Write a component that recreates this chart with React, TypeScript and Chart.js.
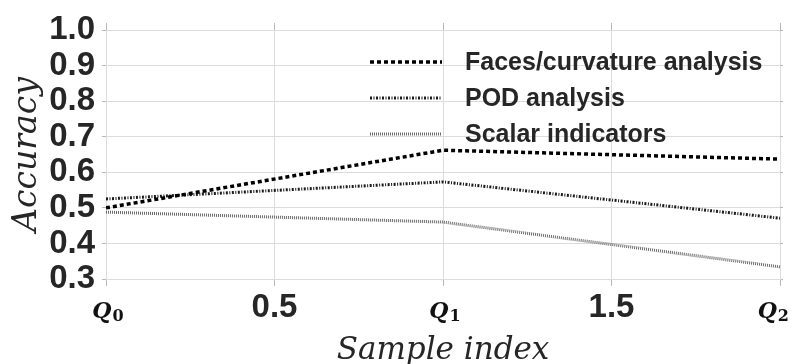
import { useEffect, useRef } from 'react';
import { Chart, registerables } from 'chart.js';

Chart.register(...registerables);

const sampleIndex = [0, 1, 2];
const sampleTickBase = ['Q', 'Q', 'Q'];
const sampleTickSub = ['0', '1', '2'];
const seriesNames = ['Faces/curvature analysis', 'POD analysis', 'Scalar indicators'];
const facesCurvature = [0.5, 0.662, 0.637];
const podAnalysis = [0.525, 0.573, 0.471];
const scalarIndicators = [0.488, 0.46, 0.334];
const yMin = 0.3;
const yMax = 1.0;
const yStep = 0.1;
const xStep = 0.5;

const GRID = '#dcdcdc';
const TICKC = '#b8b8b8';
const TEXT = '#262626';

const insideLegend = {
  id: 'insideLegend',
  afterDatasetsDraw(chart: any) {
    const { ctx, chartArea } = chart;
    chart.data.datasets.forEach((ds: any, i: number) => {
      const y = chartArea.top + 32 + i * 36;
      const x0 = chartArea.left + 264;
      const x1 = chartArea.left + 336;
      ctx.save();
      ctx.strokeStyle = ds.borderColor;
      ctx.lineWidth = ds.borderWidth;
      ctx.setLineDash(ds.borderDash || []);
      ctx.beginPath();
      ctx.moveTo(x0, y);
      ctx.lineTo(x1, y);
      ctx.stroke();
      ctx.setLineDash([]);
      ctx.fillStyle = TEXT;
      ctx.font = 'bold 25px "Liberation Sans", Arial, sans-serif';
      ctx.textBaseline = 'middle';
      ctx.textAlign = 'left';
      ctx.fillText(ds.label, chartArea.left + 359, y + 1);
      ctx.restore();
    });
  },
};

// Draws the Q_i tick labels (letter + subscript) under the x axis
const sampleLabels = {
  id: 'sampleLabels',
  afterDraw(chart: any) {
    const { ctx, chartArea } = chart;
    const xs = chart.scales.x;
    const baseFont = 'italic bold 22px "DejaVu Serif", serif';
    const subFont = 'bold 16px "DejaVu Serif", serif';
    const baseY = chartArea.bottom + 39;
    ctx.save();
    ctx.fillStyle = '#111111';
    ctx.textBaseline = 'alphabetic';
    ctx.textAlign = 'left';
    sampleIndex.forEach((v, i) => {
      ctx.font = baseFont;
      const wq = ctx.measureText(sampleTickBase[i]).width;
      ctx.font = subFont;
      const ws = ctx.measureText(sampleTickSub[i]).width;
      const total = wq + 1 + ws;
      let left = xs.getPixelForValue(v) - total / 2 + 2;
      left = Math.min(left, chart.width - 3 - total);
      ctx.font = baseFont;
      ctx.fillText(sampleTickBase[i], left, baseY);
      ctx.font = subFont;
      ctx.fillText(sampleTickSub[i], left + wq + 1, baseY + 3);
    });
    ctx.restore();
  },
};

export default function App() {
  const ref = useRef<HTMLCanvasElement | null>(null);
  useEffect(() => {
    document.body.style.margin = '0';
    const canvas = ref.current!;
    const toPts = (vals: number[]) => sampleIndex.map((x, i) => ({ x, y: vals[i] }));
    const chart = new Chart(canvas, {
      type: 'line',
      data: {
        datasets: [
          {
            label: seriesNames[0],
            data: toPts(facesCurvature),
            borderColor: '#000000',
            borderWidth: 3.5,
            borderDash: [4, 3],
            pointRadius: 0,
            tension: 0,
            fill: false,
          },
          {
            label: seriesNames[1],
            data: toPts(podAnalysis),
            borderColor: '#1a1a1a',
            borderWidth: 3,
            borderDash: [2, 1.5, 1, 1.5],
            pointRadius: 0,
            tension: 0,
            fill: false,
          },
          {
            label: seriesNames[2],
            data: toPts(scalarIndicators),
            borderColor: '#6a6a6a',
            borderWidth: 3,
            borderDash: [1, 1],
            pointRadius: 0,
            tension: 0,
            fill: false,
          },
        ],
      },
      options: {
        responsive: false,
        animation: false,
        layout: { padding: { left: 0, right: 9, top: 23, bottom: 0 } },
        plugins: { legend: { display: false }, tooltip: { enabled: false } },
        scales: {
          x: {
            type: 'linear',
            position: 'bottom',
            min: sampleIndex[0],
            max: sampleIndex[sampleIndex.length - 1],
            afterFit: (s: any) => {
              s.height = 85;
              s.paddingLeft = 0;
              s.paddingRight = 0;
            },
            border: { display: true, color: GRID },
            grid: { color: GRID, tickColor: TICKC, tickLength: 7, lineWidth: 1 },
            ticks: {
              stepSize: xStep,
              maxRotation: 0,
              autoSkip: false,
              padding: 2,
              color: TEXT,
              callback: (v: any) => {
                const n = Number(v);
                return sampleIndex.indexOf(n) >= 0 ? '' : n.toFixed(1);
              },
              font: { family: '"Liberation Sans", Arial, sans-serif', weight: 'bold', size: 33, lineHeight: 1.2 },
            },
            title: {
              display: true,
              text: 'Sample index',
              color: TEXT,
              padding: { top: 0, bottom: -2 },
              font: { family: '"DejaVu Serif", serif', style: 'italic', size: 31, lineHeight: 1 },
            },
          },
          xTop: {
            type: 'linear',
            position: 'top',
            min: sampleIndex[0],
            max: sampleIndex[sampleIndex.length - 1],
            afterFit: (s: any) => {
              s.height = 7;
              s.paddingLeft = 0;
              s.paddingRight = 0;
            },
            border: { display: false },
            grid: { drawOnChartArea: false, color: TICKC, tickLength: 7 },
            ticks: { stepSize: xStep, display: false, autoSkip: false },
          },
          y: {
            type: 'linear',
            position: 'left',
            min: yMin,
            max: yMax,
            afterFit: (s: any) => {
              s.width = 106;
            },
            border: { display: true, color: GRID },
            grid: { color: GRID, tickColor: TICKC, tickLength: 4, lineWidth: 1 },
            ticks: {
              stepSize: yStep,
              autoSkip: false,
              padding: 7,
              color: TEXT,
              callback: (v: any) => Number(v).toFixed(1),
              font: { family: '"Liberation Sans", Arial, sans-serif', weight: 'bold', size: 33, lineHeight: 1.2 },
            },
            title: {
              display: true,
              text: 'Accuracy',
              color: TEXT,
              padding: { top: 8, bottom: 0 },
              font: { family: '"DejaVu Serif", serif', style: 'italic', size: 33, lineHeight: 1.2 },
            },
          },
          yRight: {
            type: 'linear',
            position: 'right',
            min: yMin,
            max: yMax,
            afterFit: (s: any) => {
              s.width = 3;
            },
            border: { display: false },
            grid: { drawOnChartArea: false, color: TICKC, tickLength: 3 },
            ticks: { stepSize: yStep, display: false, autoSkip: false },
          },
        },
      },
      plugins: [insideLegend, sampleLabels],
    } as any);
    return () => chart.destroy();
  }, []);
  return (
    <div style={{ width: 792, height: 364, position: 'relative' }}>
      <canvas ref={ref} width={792} height={364} style={{ display: 'block' }} />
    </div>
  );
}
